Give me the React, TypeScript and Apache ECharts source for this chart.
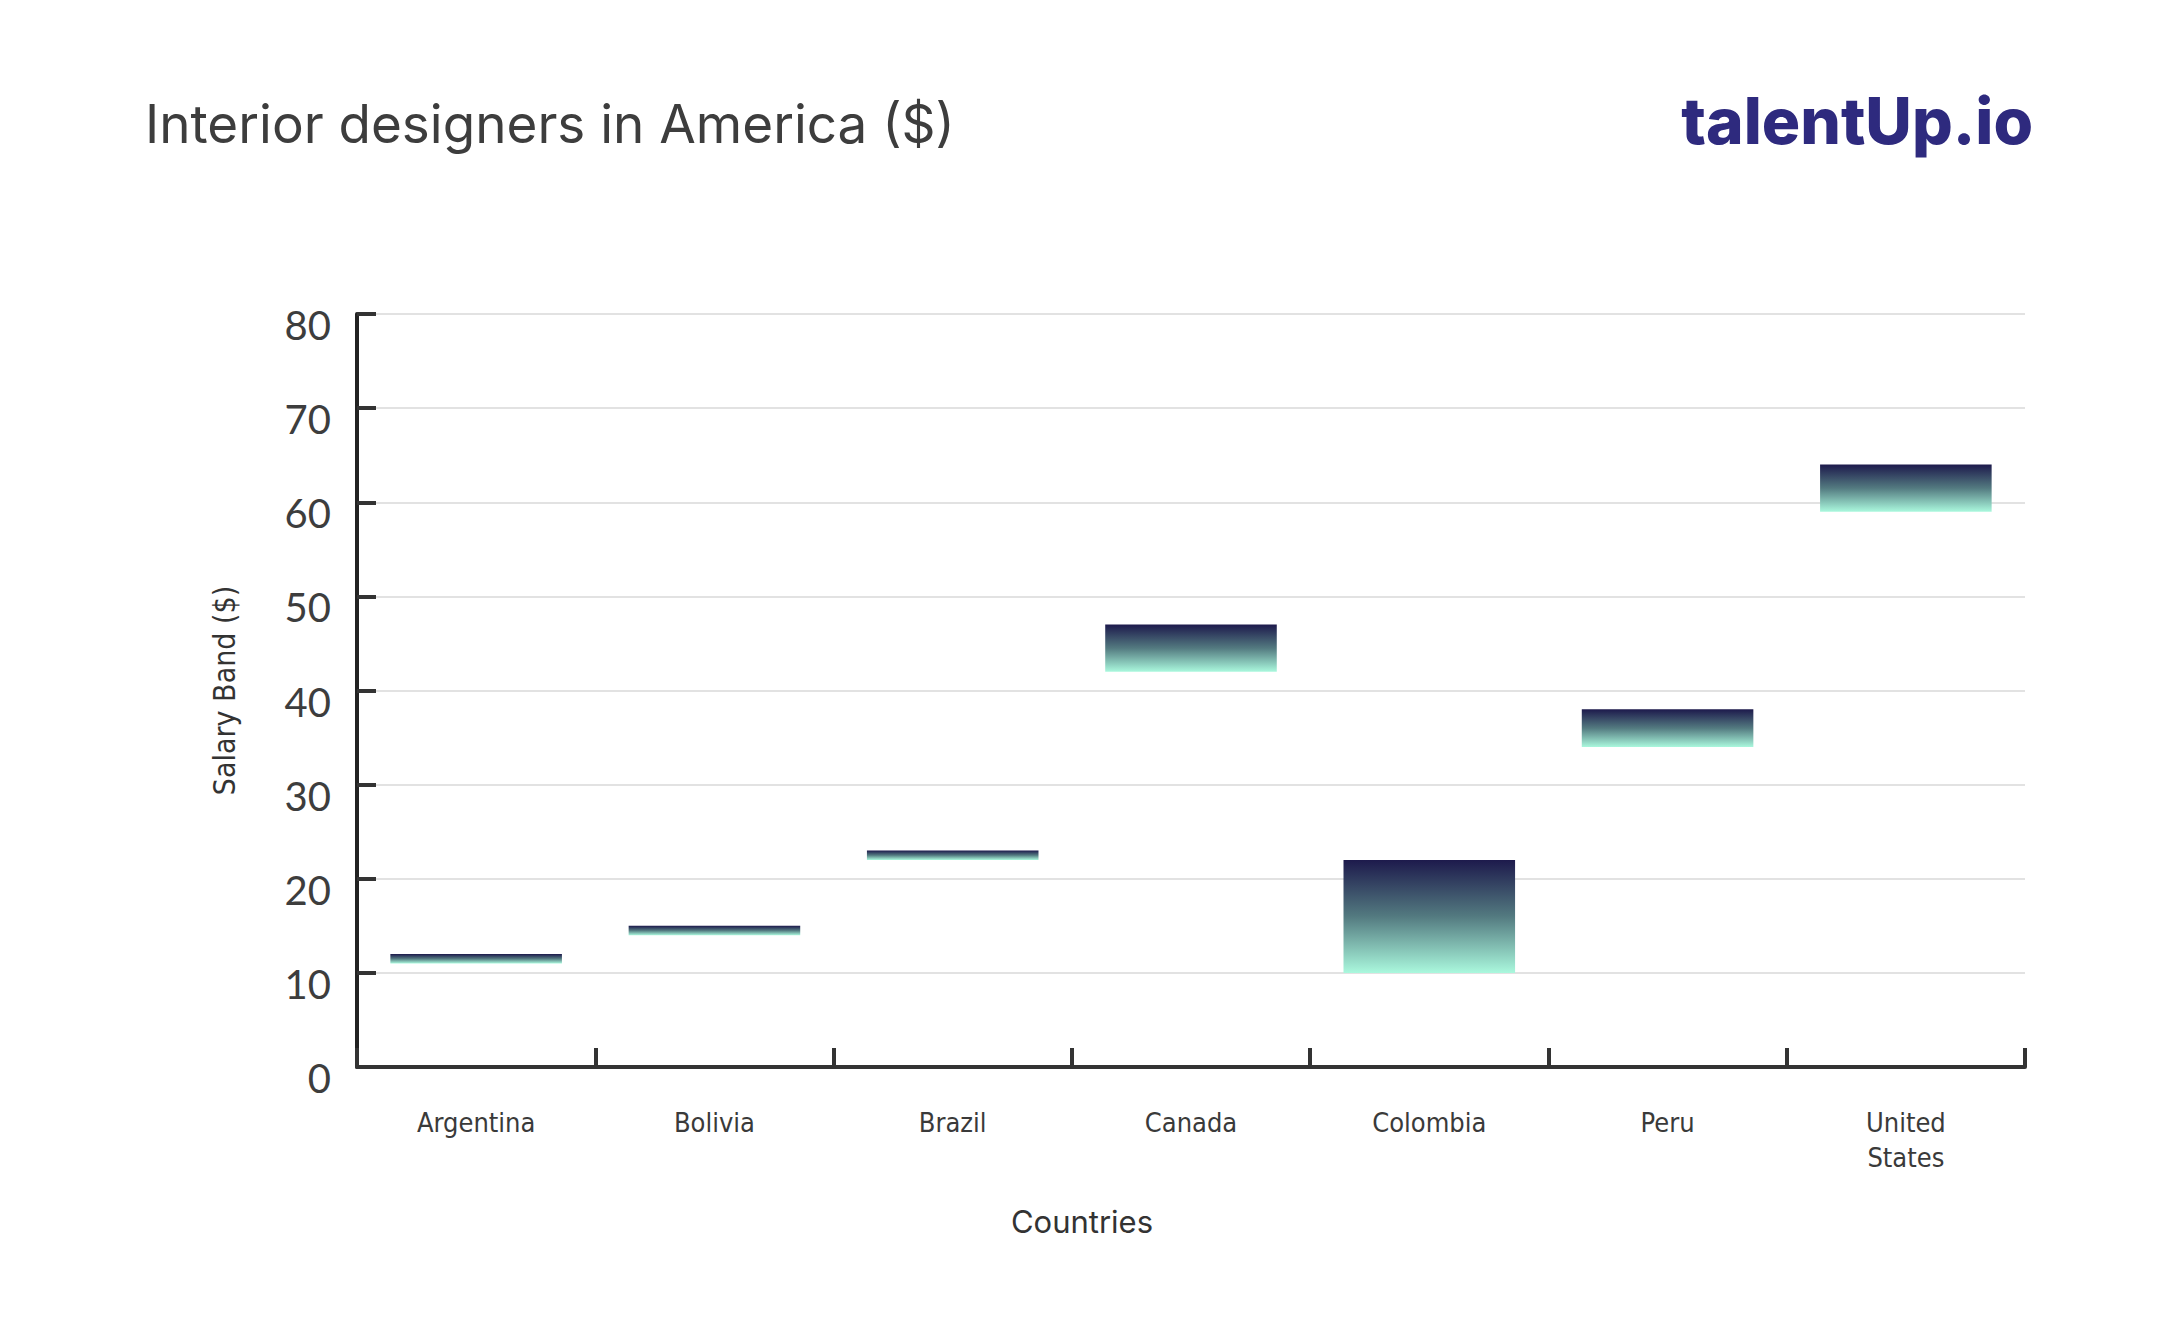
import React, { useEffect, useRef } from "react";
import * as echarts from "echarts";

const countries = ["Argentina", "Bolivia", "Brazil", "Canada", "Colombia", "Peru", "United States"];
const lowValues = [11, 14, 22, 42, 10, 34, 59];
const highValues = [12, 15, 23, 47, 22, 38, 64];
const yTicks = [0, 10, 20, 30, 40, 50, 60, 70, 80];

const TITLE = "Interior designers in America ($)";
const LOGO = "talentUp.io";
const X_NAME = "Countries";

export default function App() {
  const ref = useRef<HTMLDivElement>(null);
  useEffect(() => {
    if (!ref.current) return;
    const chart = echarts.init(ref.current, undefined, { renderer: "svg" });
    const data = countries.map((c, i) => [i, lowValues[i], highValues[i]]);
    chart.setOption({
      animation: false,
      backgroundColor: "#ffffff",
      title: {
        text: TITLE,
        left: 140,
        top: 92,
        textStyle: { fontFamily: "Inter", fontWeight: 400, fontSize: 53, color: "#3d3d3d" },
      },
      graphic: [
        {
          type: "text",
          right: 134,
          top: 88,
          style: {
            text: LOGO,
            fontFamily: "Inter",
            fontWeight: 800,
            fontSize: 64,
            fill: "#2e2a7e",
          },
        },
        {
          type: "text",
          x: 1082,
          y: 1221,
          style: {
            text: X_NAME,
            fontFamily: "Inter",
            fontSize: 31,
            fill: "#333",
            align: "center",
            verticalAlign: "middle",
          },
        },
      ],
      grid: { left: 357, right: 142, top: 314, bottom: 266, containLabel: false },
      xAxis: {
        type: "category",
        data: countries.map((c) => c.replace(" ", "\n")),
        axisLine: { show: true, lineStyle: { color: "#333", width: 4 } },
        axisTick: { show: true, inside: true, length: 19, lineStyle: { color: "#333", width: 4 } },
        axisLabel: {
          margin: 38,
          fontFamily: "Liberation Sans Narrow, DejaVu Sans Condensed, Roboto",
          fontSize: 27,
          lineHeight: 35,
          color: "#3a3a3a",
        },
        splitLine: { show: false },
      },
      yAxis: {
        type: "value",
        min: 0,
        max: 80,
        interval: 10,
        name: "Salary Band ($)",
        nameLocation: "middle",
        nameGap: 118,
        nameRotate: 90,
        nameTextStyle: {
          fontFamily: "Liberation Sans Narrow, DejaVu Sans Condensed, Roboto",
          fontSize: 30,
          color: "#333",
        },
        axisLine: { show: true, lineStyle: { color: "#222", width: 4 } },
        axisTick: { show: true, inside: true, length: 19, lineStyle: { color: "#333", width: 4 } },
        axisLabel: {
          margin: 26,
          fontFamily: "Lato, Inter",
          fontSize: 40,
          color: "#3d3d3d",
          verticalAlign: "top",
          lineHeight: 22,
          formatter: (v: number) => (yTicks.includes(v) ? String(v) : ""),
        },
        splitLine: { show: true, lineStyle: { color: "#d8d8d8", width: 1.5 } },
      },
      series: [
        {
          type: "custom",
          data,
          encode: { x: 0, y: [1, 2] },
          renderItem: (params: any, api: any) => {
            const idx = api.value(0);
            const lo = api.coord([idx, api.value(1)]);
            const hi = api.coord([idx, api.value(2)]);
            const bw = api.size([1, 0])[0] * 0.72;
            return {
              type: "rect",
              shape: { x: lo[0] - bw / 2, y: hi[1], width: bw, height: lo[1] - hi[1] },
              style: {
                fill: new echarts.graphic.LinearGradient(0, 0, 0, 1, [
                  { offset: 0, color: "#1d1a4c" },
                  { offset: 0.5, color: "#537a80" },
                  { offset: 1, color: "#aaf8dd" },
                ]),
              },
            };
          },
        },
      ],
    });
    return () => chart.dispose();
  }, []);
  return (
    <div
      ref={ref}
      style={{ position: "fixed", left: 0, top: 0, width: 2167, height: 1333, background: "#fff" }}
    />
  );
}
